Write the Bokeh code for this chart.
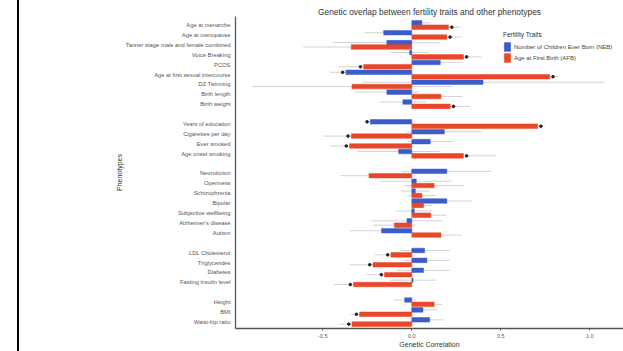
from bokeh.plotting import figure
from bokeh.models import (Range1d, FixedTicker, Legend, LegendItem, ColumnDataSource, Div,
                          PrintfTickFormatter)
from bokeh.layouts import row
from bokeh.transform import dodge
from bokeh.embed import file_html
from bokeh.resources import INLINE

FONT = "Liberation Sans"

groups = [
    ["Age at menarche", "Age at menopause", "Tanner stage male and female combined",
     "Voice Breaking", "PCOS", "Age at first sexual intercourse", "DZ Twinning",
     "Birth length", "Birth weight"],
    ["Years of education", "Cigarettes per day", "Ever smoked", "Age onset smoking"],
    ["Neuroticism", "Openness", "Schizophrenia", "Bipolar", "Subjective wellbeing",
     "Alzheimer's disease", "Autism"],
    ["LDL Cholesterol", "Triglycerides", "Diabetes", "Fasting insulin level"],
    ["Height", "BMI", "Waist-hip ratio"],
]

neb_rg = [0.057, -0.158, -0.14, -0.012, 0.16, -0.37, 0.40, -0.14, -0.05,
          -0.233, 0.183, 0.104, -0.074,
          0.197, 0.025, 0.02, 0.197, 0.014, -0.027, -0.17,
          0.072, 0.085, 0.066, 0.007,
          -0.04, 0.063, 0.10]
neb_ci = [0.05, 0.11, 0.30, 0.11, 0.13, 0.09, 0.68, 0.18, 0.13,
          0.03, 0.21, 0.13, 0.23,
          0.25, 0.20, 0.08, 0.14, 0.10, 0.20, 0.18,
          0.14, 0.13, 0.15, 0.13,
          0.06, 0.08, 0.08]
neb_sig = [False, False, False, False, False, True, False, False, False,
           True, False, False, False,
           False, False, False, False, False, False, False,
           False, False, False, False,
           False, False, False]

afb_rg = [0.207, 0.197, -0.34, 0.29, -0.27, 0.775, -0.336, 0.164, 0.216,
          0.707, -0.34, -0.35, 0.29,
          -0.24, 0.126, 0.057, 0.066, 0.107, -0.098, 0.164,
          -0.117, -0.218, -0.153, -0.327,
          0.126, -0.293, -0.336]
afb_ci = [0.065, 0.08, 0.27, 0.10, 0.14, 0.05, 0.56, 0.12, 0.11,
          0.04, 0.16, 0.11, 0.18,
          0.16, 0.17, 0.08, 0.05, 0.09, 0.12, 0.12,
          0.09, 0.13, 0.10, 0.11,
          0.045, 0.05, 0.07]
afb_sig = [True, True, False, True, True, True, False, False, True,
           True, True, True, True,
           False, False, False, False, False, False, False,
           True, True, True, True,
           False, True, True]

x_ticks = [-0.5, 0.0, 0.5, 1.0]

# slot positions (one empty slot between groups)
labels, slots = [], []
s = 0
for g in groups:
    for name in g:
        labels.append(name)
        slots.append(s)
        s += 1
    s += 1

BLUE = "#3c5cc9"
RED = "#e8472b"

def src(vals, ci, sig):
    lo = [v - c for v, c in zip(vals, ci)]
    hi = [v + c for v, c in zip(vals, ci)]
    mark_x = [v + (0.018 if v >= 0 else -0.018) for v in vals]
    return ColumnDataSource(dict(slot=slots, rg=vals, lo=lo, hi=hi, mx=mark_x, sig=sig))

neb_src = src(neb_rg, neb_ci, neb_sig)
afb_src = src(afb_rg, afb_ci, afb_sig)

p = figure(width=604, height=351, output_backend="svg", toolbar_location=None,
           x_range=Range1d(-0.99, 1.189), y_range=Range1d(30.66, -0.86),
           min_border_left=216, min_border_right=0, min_border_bottom=23, min_border_top=16)
p.margin = 0

p.title.text = "Genetic overlap between fertility traits and other phenotypes"
p.title.align = "center"
p.title.text_font = FONT
p.title.text_font_size = "8.4px"
p.title.text_font_style = "normal"
p.title.text_color = "#333333"
p.title.standoff = -1

off = 0.22
for source, off_v in ((neb_src, -off), (afb_src, off)):
    p.segment(x0="lo", x1="hi", y0=dodge("slot", off_v, range=p.y_range),
              y1=dodge("slot", off_v, range=p.y_range), source=source,
              line_color="#c8c8c8", line_width=0.8)

r_neb = p.hbar(y=dodge("slot", -off, range=p.y_range), left=0, right="rg", height=0.46,
               source=neb_src, fill_color=BLUE, line_color=BLUE, line_width=0.5)
r_afb = p.hbar(y=dodge("slot", off, range=p.y_range), left=0, right="rg", height=0.46,
               source=afb_src, fill_color=RED, line_color=RED, line_width=0.5)

for source, off_v in ((neb_src, -off), (afb_src, off)):
    d = source.data
    idx = [i for i, flag in enumerate(d["sig"]) if flag]
    sub = ColumnDataSource(dict(mx=[d["mx"][i] for i in idx], slot=[d["slot"][i] for i in idx]))
    p.scatter(x="mx", y=dodge("slot", off_v, range=p.y_range), source=sub,
              marker="circle", size=2.6, fill_color="#222222", line_color="#222222")

p.xgrid.visible = False
p.ygrid.visible = False
p.outline_line_color = None

p.xaxis.ticker = FixedTicker(ticks=x_ticks)
p.xaxis.formatter = PrintfTickFormatter(format="%.1f")
p.xaxis.axis_label = "Genetic Correlation"
p.yaxis.axis_label = "Phenotypes"
p.yaxis.ticker = FixedTicker(ticks=slots)
p.yaxis.major_label_overrides = {sl: lab for sl, lab in zip(slots, labels)}
for ax in (p.xaxis, p.yaxis):
    ax.axis_line_color = "#555555"
    ax.axis_line_width = 1.3
    ax.major_tick_line_color = "#555555"
    ax.major_tick_out = 2
    ax.major_tick_in = 0
    ax.minor_tick_out = 0
    ax.minor_tick_in = 0
    ax.major_label_text_font = FONT
    ax.major_label_text_font_size = "5.5px"
    ax.major_label_text_color = "#555555"
    ax.axis_label_text_font = FONT
    ax.axis_label_text_font_size = "7px"
    ax.axis_label_text_font_style = "normal"
    ax.axis_label_text_color = "#333333"
p.xaxis.major_label_standoff = 3
p.xaxis.axis_label_standoff = 0
p.yaxis.major_tick_line_color = None
p.yaxis.major_label_text_font_size = "5.8px"
p.yaxis.major_label_standoff = 3
p.yaxis.axis_label_standoff = 0

legend = Legend(items=[LegendItem(label="Number of Children Ever Born (NEB)", renderers=[r_neb]),
                       LegendItem(label="Age at First Birth (AFB)", renderers=[r_afb])],
                title="Fertility Traits", location=(268, 265),
                title_text_font=FONT, title_text_font_size="6.5px", title_text_font_style="normal",
                title_text_color="#333333",
                label_text_font=FONT, label_text_font_size="6px", label_text_color="#444444",
                glyph_width=8, glyph_height=11, label_height=11, label_standoff=3,
                spacing=0, padding=2, margin=0, border_line_color=None,
                background_fill_alpha=0, title_standoff=3)
p.add_layout(legend)

edge = Div(text="", width=19, height=351, margin=0,
           styles={"border-right": "2px solid #000000", "box-sizing": "border-box"})

layout = row(edge, p)
open("out.html", "w").write(file_html(layout, INLINE))
